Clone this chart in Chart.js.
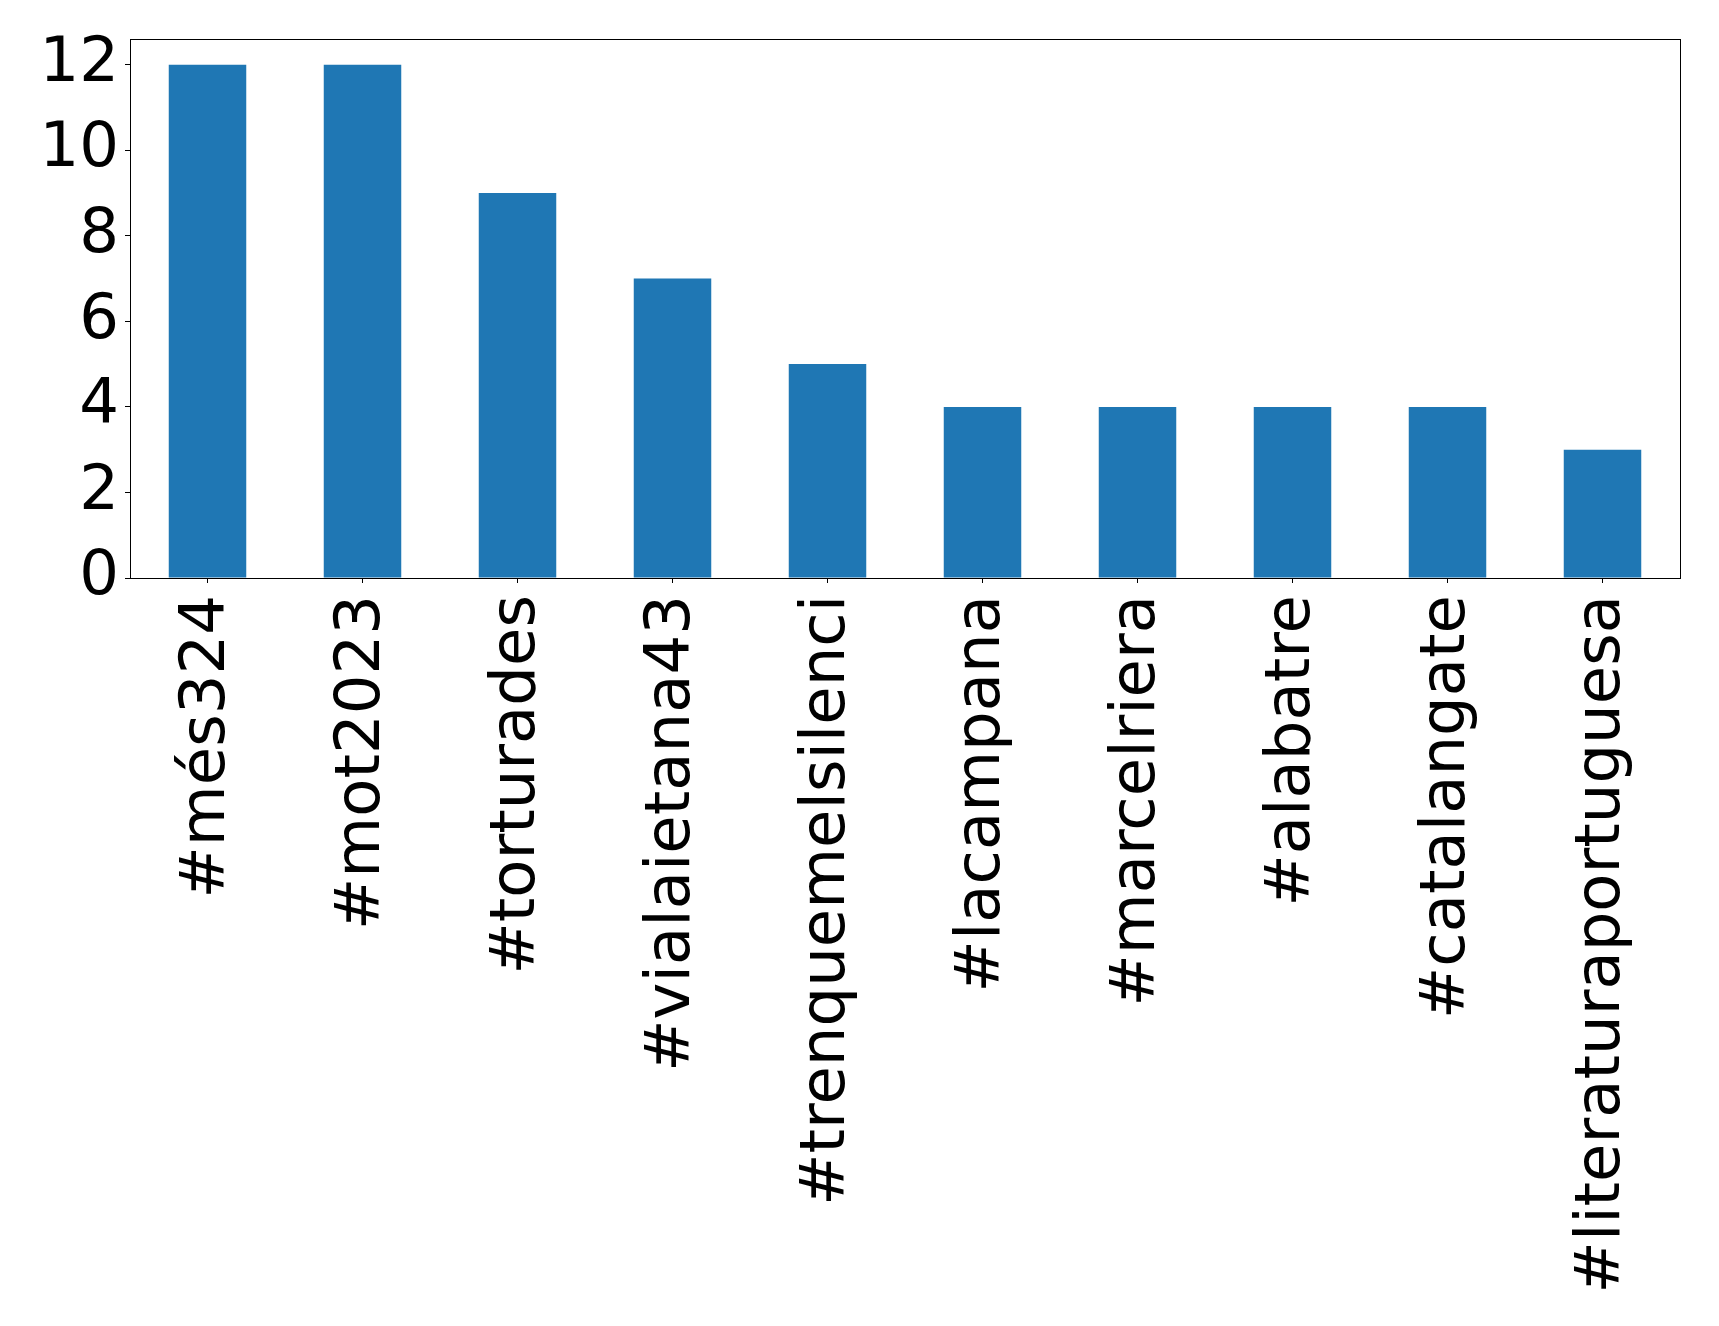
<!DOCTYPE html>
<html>
<head>
<meta charset="utf-8">
<script src="https://cdn.jsdelivr.net/npm/chart.js@4/dist/chart.umd.min.js"></script>
<style>
  html, body { margin: 0; padding: 0; background: #fff; }
  #wrap { width: 1719px; height: 1326px; position: relative; }
</style>
</head>
<body>
<div id="wrap"><canvas id="chart"></canvas></div>
<script>
// hashtag counts
const hashtags = ['#més324', '#mot2023', '#torturades', '#vialaietana43', '#trenquemelsilenci',
    '#lacampana', '#marcelriera', '#alabatre', '#catalangate', '#literaturaportuguesa'];
const counts = [12, 12, 9, 7, 5, 4, 4, 4, 4, 3];
const yTicks = [0, 2, 4, 6, 8, 10, 12];
const yMax = 12.6;

const font = { family: 'DejaVu Sans', size: 62.5 };

// top and right spines, like matplotlib's frame
const frame = {
    id: 'frame',
    afterDraw(chart) {
        const { ctx, chartArea } = chart;
        ctx.save();
        ctx.strokeStyle = '#000';
        ctx.lineWidth = 1;
        ctx.strokeRect(chartArea.left + 0.5, chartArea.top + 0.5,
            chartArea.right - chartArea.left, chartArea.bottom - chartArea.top);
        ctx.restore();
    }
};

new Chart(document.getElementById('chart'), {
    type: 'bar',
    data: {
        labels: hashtags,
        datasets: [{
            data: counts,
            backgroundColor: '#1f77b4',
            borderWidth: 0,
            barPercentage: 0.5,
            categoryPercentage: 1.0
        }]
    },
    options: {
        responsive: true,
        maintainAspectRatio: false,
        animation: false,
        layout: { padding: { top: 39, right: 39, left: 0, bottom: 0 } },
        plugins: {
            legend: { display: false },
            tooltip: { enabled: false }
        },
        scales: {
            x: {
                offset: true,
                grid: { display: true, offset: false, drawOnChartArea: false, drawTicks: true, tickLength: 5, color: '#000' },
                border: { display: true, color: '#000', width: 1 },
                ticks: {
                    color: '#000',
                    font: font,
                    minRotation: 90,
                    maxRotation: 90,
                    autoSkip: false,
                    padding: 12
                },
                afterFit(scale) {
                    scale.height = 1326 - 578;
                    scale.paddingLeft = 0;
                    scale.paddingRight = 0;
                }
            },
            y: {
                min: 0,
                max: yMax,
                grid: { display: true, drawOnChartArea: false, drawTicks: true, tickLength: 5, color: '#000' },
                border: { display: true, color: '#000', width: 1 },
                ticks: { color: '#000', font: font, padding: 6 },
                afterBuildTicks(scale) {
                    scale.ticks = yTicks.map(v => ({ value: v }));
                },
                afterFit(scale) {
                    scale.width = 130;
                    scale.paddingTop = 0;
                    scale.paddingBottom = 0;
                }
            }
        }
    },
    plugins: [frame]
});
</script>
</body>
</html>
